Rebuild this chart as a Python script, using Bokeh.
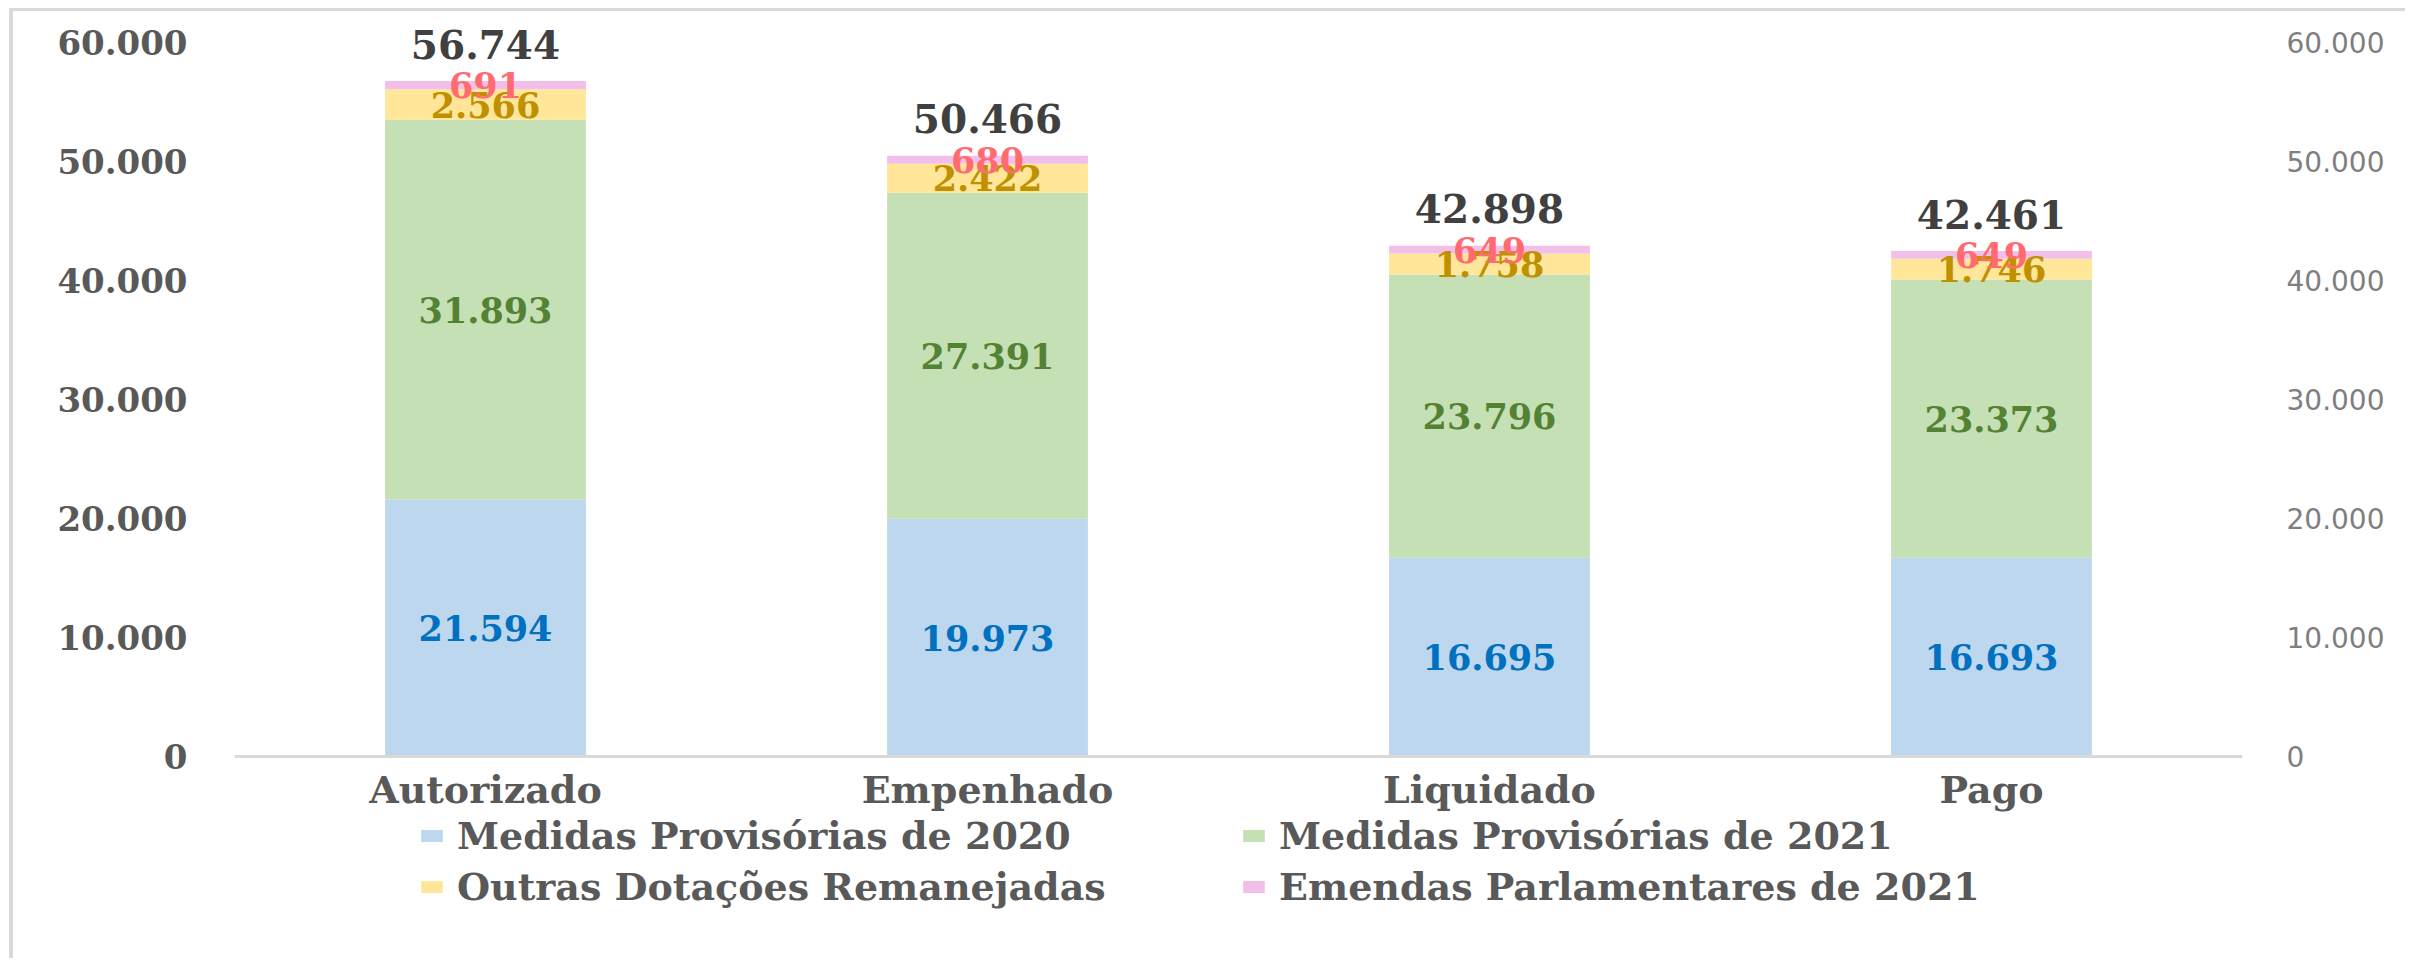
import numpy as np
from bokeh.plotting import figure
from bokeh.models import (ColumnDataSource, FactorRange, Range1d, LinearAxis,
                          FixedTicker, Legend, LegendItem)
from bokeh.core.properties import value
from bokeh.embed import file_html
from bokeh.resources import INLINE

# ---- data ----
categories = ["Autorizado", "Empenhado", "Liquidado", "Pago"]
mp_2020 = [21594, 19973, 16695, 16693]
mp_2021 = [31893, 27391, 23796, 23373]
outras = [2566, 2422, 1758, 1746]
emendas = [691, 680, 649, 649]
series_names = ["Medidas Provisórias de 2020", "Medidas Provisórias de 2021",
                "Outras Dotações Remanejadas", "Emendas Parlamentares de 2021"]
tick_values = [0, 10000, 20000, 30000, 40000, 50000, 60000]
tick_labels = ["0", "10.000", "20.000", "30.000", "40.000", "50.000", "60.000"]

bar_colors = ["#BDD7EE", "#C5E0B4", "#FFE699", "#F2BFEA"]
label_colors = ["#0070C0", "#548235", "#BF9000", "#FF6B70"]

SERIF = value("DejaVu Serif")

Y_MIN, Y_MAX = -15800, 62000


def fmt(v):
    return f"{int(v):,}".replace(",", ".")


keys = ["mp2020", "mp2021", "outras", "emendas"]
series = [mp_2020, mp_2021, outras, emendas]
data = {"cat": categories}
for k, s in zip(keys, series):
    data[k] = s
source = ColumnDataSource(data)

p = figure(x_range=FactorRange(*categories), y_range=Range1d(Y_MIN, Y_MAX),
           width=2396, height=950, output_backend="svg", toolbar_location=None,
           min_border_left=221, min_border_right=167, min_border_top=7,
           min_border_bottom=17)
p.styles = {"border-left": "4px solid #d9d9d9", "border-top": "3px solid #d9d9d9",
            "margin-left": "9px", "margin-top": "8px"}
p.outline_line_color = None
p.xgrid.grid_line_color = None
p.ygrid.grid_line_color = None
p.background_fill_color = "white"
p.border_fill_color = "white"

renderers = p.vbar_stack(keys, x="cat", width=0.4, source=source,
                         color=bar_colors, line_color=None)

# segment labels
arr = np.array(series, dtype=float)
cum = np.cumsum(arr, axis=0)
for i, k in enumerate(keys):
    mids = cum[i] - arr[i] / 2.0
    src = ColumnDataSource(dict(x=categories, y=mids, t=[fmt(v) for v in series[i]]))
    p.text(x="x", y="y", text="t", source=src, text_font=SERIF,
           text_font_style="bold", text_font_size="35px",
           text_color=label_colors[i], text_align="center",
           text_baseline="middle")

# totals
totals = cum[-1]
tsrc = ColumnDataSource(dict(x=categories, y=totals, t=[fmt(v) for v in totals]))
p.text(x="x", y="y", text="t", source=tsrc, text_font=SERIF,
       text_font_style="bold", text_font_size="39px", text_color="#404040",
       text_align="center", text_baseline="middle", y_offset=-37)

overrides = {v: lab for v, lab in zip(tick_values, tick_labels)}

# left axis
yl = p.yaxis[0]
yl.ticker = FixedTicker(ticks=tick_values)
yl.major_label_overrides = overrides
yl.axis_line_color = None
yl.major_tick_line_color = None
yl.minor_tick_line_color = None
yl.major_label_standoff = 41
yl.major_label_text_font = "DejaVu Serif"
yl.major_label_text_font_style = "bold"
yl.major_label_text_font_size = "34px"
yl.major_label_text_color = "#595959"

# right axis
p.extra_y_ranges = {"right": Range1d(Y_MIN, Y_MAX)}
yr = LinearAxis(y_range_name="right", ticker=FixedTicker(ticks=tick_values))
yr.major_label_overrides = overrides
yr.axis_line_color = None
yr.major_tick_line_color = None
yr.minor_tick_line_color = None
yr.major_label_standoff = 38
yr.major_label_text_font = "DejaVu Sans"
yr.major_label_text_font_size = "28px"
yr.major_label_text_color = "#7F7F7F"
p.add_layout(yr, "right")

# bottom axis, fixed at zero inside the frame
xa = p.xaxis[0]
xa.fixed_location = 0
xa.axis_line_color = "#D9D9D9"
xa.axis_line_width = 3
xa.major_tick_line_color = None
xa.minor_tick_line_color = None
xa.major_label_standoff = 5
xa.major_label_text_font = "DejaVu Serif"
xa.major_label_text_font_style = "bold"
xa.major_label_text_font_size = "38px"
xa.major_label_text_color = "#595959"

legend = Legend(items=[LegendItem(label=n, renderers=[r]) for n, r in zip(series_names, renderers)],
                orientation="horizontal", ncols=2, location=(184, 35),
                glyph_width=27, glyph_height=15, label_standoff=12,
                label_width=777, spacing=6, padding=0, margin=0,
                border_line_color=None, background_fill_alpha=0,
                label_text_font="DejaVu Serif", label_text_font_style="bold",
                label_text_font_size="38px", label_text_color="#595959")
p.add_layout(legend, "center")

open("out.html", "w").write(file_html(p, INLINE))
